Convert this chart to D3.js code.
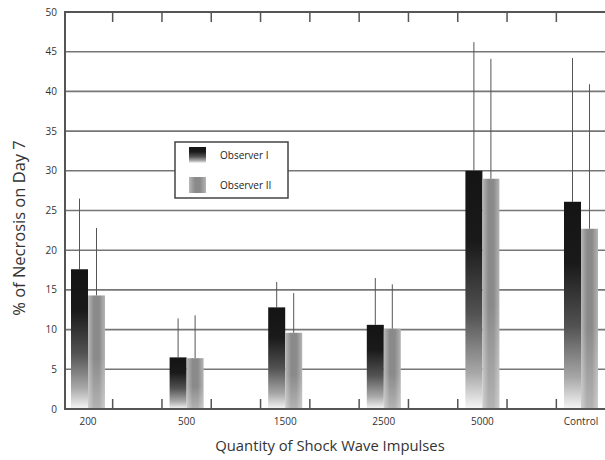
<!DOCTYPE html>
<html>
<head>
<meta charset="utf-8">
<script src="https://cdn.jsdelivr.net/npm/d3@7"></script>
<style>
  body { margin: 0; background: #fff; }
  text { font-family: "Open Sans", "Noto Sans", sans-serif; }
</style>
</head>
<body>
<svg width="605" height="460"></svg>
<script>
// values
const categories = ["200", "500", "1500", "2500", "5000", "Control"];
const seriesNames = ["Observer I", "Observer II"];
const observer1 = [17.6, 6.5, 12.8, 10.6, 30.0, 26.1];
const observer2 = [14.3, 6.4, 9.6, 10.1, 29.0, 22.7];
const errTop1 = [26.5, 11.4, 16.0, 16.5, 46.2, 44.2];
const errTop2 = [22.8, 11.8, 14.6, 15.7, 44.1, 40.9];
const yTicks = [0, 5, 10, 15, 20, 25, 30, 35, 40, 45, 50];

const svg = d3.select("svg");
const width = +svg.attr("width");

const plotLeft = 65, plotTop = 12, plotBottom = 409;

const y = d3.scaleLinear().domain([0, 50]).range([plotBottom, plotTop]);

// category centres sit at 88 ... 581, the frame is cut at the right edge
const x = d3.scaleBand().domain(categories).range([38.7, 630.3]);
const xs = d3.scaleBand().domain(seriesNames).range([0, 34]);

const data = categories.map((c, i) => ({
  cat: c,
  vals: [
    { s: seriesNames[0], v: observer1[i], e: errTop1[i] },
    { s: seriesNames[1], v: observer2[i], e: errTop2[i] },
  ],
}));

// gradients
const defs = svg.append("defs");
const addGrad = (id, horiz, stops) => {
  const g = defs.append("linearGradient").attr("id", id)
    .attr("x1", 0).attr("y1", 0).attr("x2", horiz ? 1 : 0).attr("y2", horiz ? 0 : 1);
  stops.forEach(s => g.append("stop").attr("offset", s[0])
    .attr("stop-color", s[1]).attr("stop-opacity", s[2] == null ? 1 : s[2]));
};
addGrad("grad1", false, [[0, "#141414"], [0.3, "#1a1a1a"], [0.6, "#525252"], [0.85, "#a8a8a8"], [1, "#f6f6f6"]]);
addGrad("grad2", true, [[0, "#b8b8b8"], [0.35, "#8a8a8a"], [0.65, "#8a8a8a"], [1, "#b4b4b4"]]);
addGrad("fadeWhite", false, [[0, "#fff", 0], [0.55, "#fff", 0], [1, "#fff", 0.35]]);
const fills = { "Observer I": "url(#grad1)", "Observer II": "url(#grad2)" };

// grid lines
svg.append("g").selectAll("line")
  .data(yTicks.filter(t => t > 0 && t < 50))
  .enter().append("line")
  .attr("x1", plotLeft).attr("x2", width)
  .attr("y1", d => y(d)).attr("y2", d => y(d))
  .attr("stroke", "#767676").attr("stroke-width", 1.6);

// error bars (only the upper whisker shows)
const groups = svg.append("g").selectAll("g")
  .data(data).enter().append("g")
  .attr("transform", d => `translate(${x(d.cat) + x.bandwidth() / 2 - 17},0)`);

groups.selectAll("line.err")
  .data(d => d.vals).enter().append("line")
  .attr("class", "err")
  .attr("x1", d => xs(d.s) + xs.bandwidth() / 2)
  .attr("x2", d => xs(d.s) + xs.bandwidth() / 2)
  .attr("y1", d => y(d.e)).attr("y2", d => y(d.v))
  .attr("stroke", "#555").attr("stroke-width", 1);

groups.selectAll("rect.bar")
  .data(d => d.vals).enter().append("rect")
  .attr("class", "bar")
  .attr("x", d => xs(d.s))
  .attr("y", d => y(d.v))
  .attr("width", xs.bandwidth())
  .attr("height", d => y(0) - y(d.v))
  .attr("fill", d => fills[d.s]);

// lighten the grey bars towards the bottom
groups.selectAll("rect.fade")
  .data(d => d.vals.filter(v => v.s === seriesNames[1])).enter().append("rect")
  .attr("class", "fade")
  .attr("x", d => xs(d.s))
  .attr("y", d => y(d.v))
  .attr("width", xs.bandwidth())
  .attr("height", d => y(0) - y(d.v))
  .attr("fill", "url(#fadeWhite)");

// frame
const frame = svg.append("g").attr("stroke", "#555").attr("stroke-width", 2);
frame.append("line").attr("x1", plotLeft).attr("x2", plotLeft).attr("y1", plotTop - 1).attr("y2", plotBottom + 1);
frame.append("line").attr("x1", plotLeft).attr("x2", width).attr("y1", plotTop).attr("y2", plotTop);
frame.append("line").attr("x1", plotLeft).attr("x2", width).attr("y1", plotBottom).attr("y2", plotBottom);

// inner ticks on top and bottom
const tickXs = [];
categories.forEach(c => {
  tickXs.push(x(c) + x.bandwidth() * 0.25, x(c) + x.bandwidth() * 0.75);
});
const tickG = svg.append("g").attr("stroke", "#555").attr("stroke-width", 1.5);
tickXs.filter(t => t > plotLeft + 2 && t < width - 1).forEach(t => {
  tickG.append("line").attr("x1", t).attr("x2", t).attr("y1", plotTop).attr("y2", plotTop + 10);
  tickG.append("line").attr("x1", t).attr("x2", t).attr("y1", plotBottom).attr("y2", plotBottom - 10);
});

// y tick labels
svg.append("g").selectAll("text")
  .data(yTicks).enter().append("text")
  .attr("x", 57).attr("y", d => y(d)).attr("dy", "0.35em")
  .attr("text-anchor", "end").attr("font-size", 10).attr("fill", "#333")
  .text(d => d);

// x tick labels
svg.append("g").selectAll("text")
  .data(categories).enter().append("text")
  .attr("x", d => x(d) + x.bandwidth() / 2).attr("y", 425)
  .attr("text-anchor", "middle").attr("font-size", 10).attr("fill", "#333")
  .text(d => d);

// axis titles
svg.append("text")
  .attr("x", 330).attr("y", 451)
  .attr("text-anchor", "middle").attr("font-size", 14.8).attr("fill", "#333")
  .text("Quantity of Shock Wave Impulses");

svg.append("text")
  .attr("transform", "translate(25,228) rotate(-90)")
  .attr("text-anchor", "middle").attr("font-size", 16.5).attr("fill", "#333")
  .text("% of Necrosis on Day 7");

// legend
const legend = svg.append("g").attr("transform", "translate(175,142)");
legend.append("rect").attr("width", 113).attr("height", 56)
  .attr("fill", "#fff").attr("stroke", "#444").attr("stroke-width", 1.5);
seriesNames.forEach((s, i) => {
  legend.append("rect").attr("x", 14).attr("y", 5 + i * 30)
    .attr("width", 17).attr("height", 16).attr("fill", fills[s]);
  legend.append("text").attr("x", 45).attr("y", 13 + i * 30).attr("dy", "0.35em")
    .attr("font-size", 10).attr("fill", "#222").text(s);
});
</script>
</body>
</html>
